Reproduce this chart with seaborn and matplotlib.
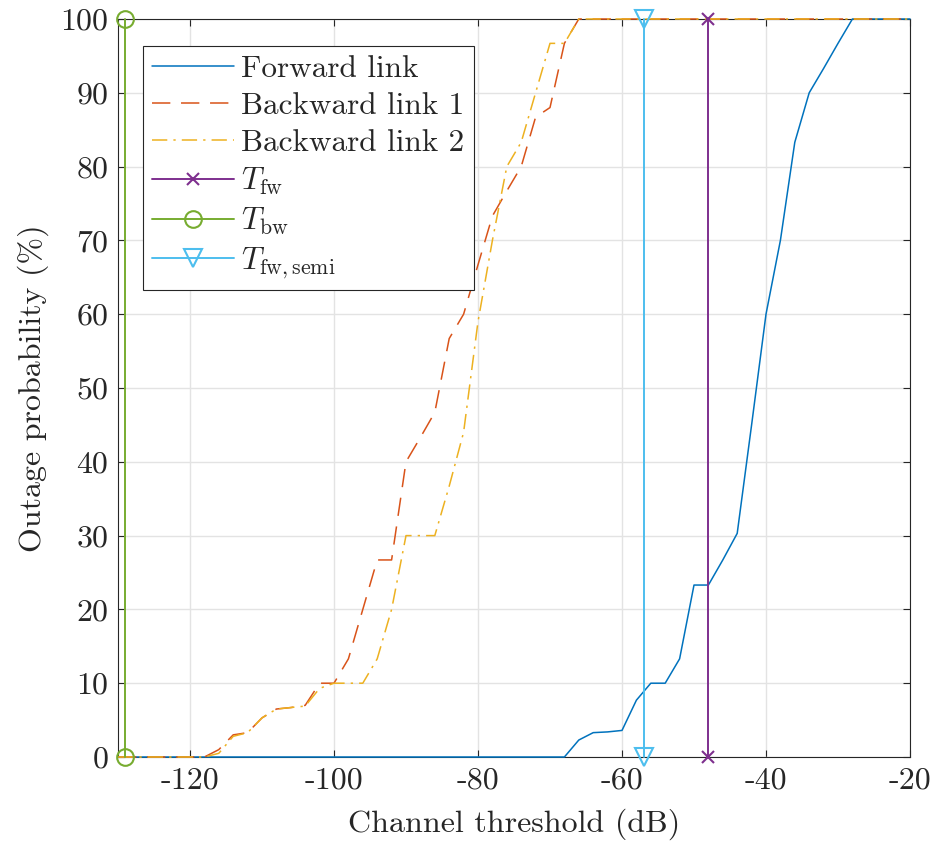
import numpy as np
import pandas as pd
import matplotlib
matplotlib.use("Agg")
import matplotlib.pyplot as plt
import seaborn as sns

# ---------------- data ----------------
x_fw = [-130, -68, -66, -64, -62, -60, -58, -56, -54, -52, -50, -48, -46, -44,
        -42, -40, -38, -36, -34, -32, -30, -28, -20]
y_fw = [0, 0, 2.3, 3.3, 3.4, 3.6, 7.7, 10, 10, 13.3, 23.3, 23.3, 26.7, 30.3,
        45, 60, 70, 83.3, 90, 93.3, 96.7, 100, 100]

x_bw = [-130, -118, -116, -114, -112, -110, -108, -106, -104, -102, -100, -98,
        -96, -94, -92, -90, -88, -86, -84, -82, -80, -78, -76, -74, -72, -70,
        -68, -66, -20]
y_bw1 = [0, 0, 1, 3, 3.3, 5.3, 6.5, 6.7, 7, 10, 10, 13.3, 20, 26.7, 26.7, 40,
         43.3, 46.7, 56.7, 60, 66.7, 73.3, 76.7, 80, 86.7, 88, 96.7, 100, 100]
y_bw2 = [0, 0, 0.5, 2.8, 3.3, 5.3, 6.5, 6.7, 6.9, 9.3, 10, 10, 10, 13.3, 20, 30,
         30, 30, 36.7, 44, 59, 70, 80, 83.3, 90, 96.7, 96.7, 100, 100]

t_fw = -48
t_bw = -129
t_fw_semi = -57
y_span = [0, 100]

series_labels = ["Forward link", "Backward link 1", "Backward link 2",
                 r"$T_{\rm fw}$", r"$T_{\rm bw}$", r"$T_{\rm fw,semi}$"]
xticks = [-120, -100, -80, -60, -40, -20]
yticks = [0, 10, 20, 30, 40, 50, 60, 70, 80, 90, 100]

# ---------------- style ----------------
sns.set_style("ticks")
plt.rcParams["font.family"] = "serif"
plt.rcParams["font.serif"] = ["cmr10", "DejaVu Serif"]
plt.rcParams["mathtext.fontset"] = "cm"
plt.rcParams["axes.unicode_minus"] = False
plt.rcParams["axes.formatter.use_mathtext"] = True

C_BLUE = "#0072BD"
C_RED = "#D95319"
C_YEL = "#EDB120"
C_PUR = "#7E2F8E"
C_GRN = "#77AC30"
C_CYA = "#4DBEEE"
C_AX = "#262626"

W, H = 939, 843
fig = plt.figure(figsize=(W / 100, H / 100), dpi=100)
ax = fig.add_axes([118 / W, 1 - 757 / H, 792 / W, 738 / H])

df_fw = pd.DataFrame({"x": x_fw, "y": y_fw})
df_bw = pd.DataFrame({"x": x_bw, "y1": y_bw1, "y2": y_bw2})

sns.lineplot(data=df_fw, x="x", y="y", ax=ax, color=C_BLUE, lw=1.1,
             estimator=None, sort=False, label=series_labels[0], clip_on=False)
sns.lineplot(data=df_bw, x="x", y="y1", ax=ax, color=C_RED, lw=1.1,
             estimator=None, sort=False, label=series_labels[1], clip_on=False)
ax.lines[-1].set_dashes((12, 7))
sns.lineplot(data=df_bw, x="x", y="y2", ax=ax, color=C_YEL, lw=1.1,
             estimator=None, sort=False, label=series_labels[2], clip_on=False)
ax.lines[-1].set_dashes((10, 4, 1.5, 4))

for t, c, m, ms, lab in [(t_fw, C_PUR, "x", 9, series_labels[3]),
                         (t_bw, C_GRN, "o", 12, series_labels[4]),
                         (t_fw_semi, C_CYA, "v", 13, series_labels[5])]:
    sns.lineplot(x=[t, t], y=y_span, ax=ax, color=c, lw=1.4, marker=m,
                 markersize=ms, markeredgewidth=1.5, markeredgecolor=c,
                 markerfacecolor="none", estimator=None, sort=False,
                 label=lab, clip_on=False)

for ln in ax.lines:
    ln.set_zorder(3)

ax.set_xlim(-130, -20)
ax.set_ylim(0, 100)
ax.set_xticks(xticks)
ax.set_xticklabels([str(v) for v in xticks])
ax.set_yticks(yticks)
ax.set_yticklabels([str(v) for v in yticks])
ax.grid(True, color="#e3e3e3", lw=1.0)
ax.set_axisbelow(True)
for s in ax.spines.values():
    s.set_visible(True)
    s.set_color(C_AX)
    s.set_linewidth(0.8)
    s.set_zorder(2.5)
ax.tick_params(direction="in", top=True, right=True, length=5, width=0.8,
               color=C_AX, labelcolor=C_AX, labelsize=23, pad=7)
ax.set_xlabel("Channel threshold (dB)", fontsize=23, color=C_AX, labelpad=10)
ax.set_ylabel("Outage probability (%)", fontsize=23, color=C_AX, labelpad=8)

leg = ax.legend(loc="upper left", bbox_to_anchor=(25 / 792, 1 - 27 / 738),
                borderaxespad=0, fontsize=22.5, frameon=True, fancybox=False,
                framealpha=1, edgecolor=C_AX, handlelength=2.6,
                handletextpad=0.25, borderpad=0.3, labelspacing=0.28)
leg.get_frame().set_linewidth(0.8)
leg.set_zorder(5)

fig.savefig("out.png", dpi=100)
